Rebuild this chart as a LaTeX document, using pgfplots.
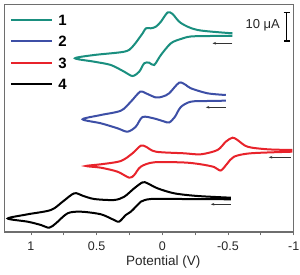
\documentclass[border=0pt]{standalone}
\usepackage{fontspec}
\setmainfont{Liberation Sans}
\usepackage{pgfplots}
\pgfplotsset{compat=1.18}
\usetikzlibrary{arrows.meta}
\definecolor{cteal}{HTML}{1A8F7F}
\definecolor{cblue}{HTML}{3D4FA6}
\definecolor{cred}{HTML}{E8232B}
\definecolor{axgray}{HTML}{6E6E6E}
\begin{document}
\begin{tikzpicture}
\begin{axis}[
  scale only axis, width=289pt, height=227.3pt,
  x dir=reverse, xmin=-1, xmax=1.2, ymin=43, ymax=270.3,
  axis line style={axgray, line width=1.1pt},
  xtick={-1,-0.5,0,0.5,1}, minor xtick={-0.75,-0.25,0.25,0.75},
  ytick=\empty,
  xtick pos=bottom, tick align=outside,
  major tick length=3.5pt, minor tick length=3.5pt,
  tick style={axgray, line width=0.8pt},
  /pgf/number format/assume math mode=true,
  ticklabel style={font=\fontsize{12.5}{14}\selectfont, text=black!85},
  xticklabel style={yshift=-3pt},
  xlabel={Potential (V)},
  xlabel style={at={(axis description cs:0.549,-0.146)}, anchor=base, font=\fontsize{13.5}{15}\selectfont, text=black!85},
  legend style={at={(axis description cs:0.0069,0.965)}, anchor=north west, draw=none, fill=none,
    font=\bfseries\fontsize{15}{15}\selectfont, row sep=11pt, nodes={inner sep=0pt, text depth=0pt}},
  legend image code/.code={\draw[#1] (0pt,0pt) -- (41.6pt,0pt); \path (46.5pt,0pt);},
  legend cell align=left,
]
\addlegendimage{cteal, line width=2pt}
\addlegendentry{1}
\addlegendimage{cblue, line width=2pt}
\addlegendentry{2}
\addlegendimage{cred, line width=2pt}
\addlegendentry{3}
\addlegendimage{black, line width=2pt}
\addlegendentry{4}
\addplot[cteal, line width=2pt, smooth, forget plot] coordinates {
(-0.534,239) (-0.369,239) (-0.217,238.5) (-0.141,236) (-0.065,231.7) (0.011,220) (0.062,210) (0.100,212.3) (0.138,211.7) (0.176,203.3) (0.227,199) (0.290,203.3) (0.392,210) (0.519,213.3) (0.665,216.7) (0.519,220) (0.290,223.3) (0.227,228.3) (0.150,241.7) (0.125,246.7) (0.087,246.7) (0.049,248.3) (0.011,253.3) (-0.040,262.5) (-0.078,261) (-0.141,252) (-0.268,245) (-0.534,241.7)
};
\addplot[cblue, line width=2pt, smooth, forget plot] coordinates {
(-0.483,174.3) (-0.344,174) (-0.217,173.3) (-0.141,168) (-0.095,158) (-0.052,152.5) (-0.014,153.5) (0.062,156.5) (0.150,158) (0.202,148.3) (0.265,143.3) (0.341,146.7) (0.468,151.7) (0.607,155.7) (0.468,160) (0.316,164.3) (0.240,173.3) (0.169,183.3) (0.125,181.7) (0.049,177.5) (-0.004,178.5) (-0.052,181.7) (-0.128,192.3) (-0.179,190) (-0.217,186.7) (-0.344,181.7) (-0.483,180)
};
\addplot[cred, line width=2pt, smooth, forget plot] coordinates {
(-0.990,123.3) (-0.673,121.7) (-0.546,118.3) (-0.496,111.7) (-0.445,104.5) (-0.394,108) (-0.293,110.7) (-0.166,112.5) (0.062,112.7) (0.164,108.3) (0.214,100) (0.252,97.3) (0.341,103.3) (0.468,107.3) (0.582,109) (0.468,110.7) (0.316,114) (0.227,121.7) (0.164,129.3) (0.125,128.3) (0.049,123.3) (-0.166,121.7) (-0.293,120.7) (-0.420,125) (-0.483,133.3) (-0.534,137.3) (-0.572,135) (-0.648,128.3) (-0.800,125.7) (-0.990,125)
};
\addplot[black, line width=2pt, smooth, forget plot] coordinates {
(-0.521,75.7) (-0.141,76) (0.087,76) (0.164,73.3) (0.189,70) (0.240,63.3) (0.278,60) (0.329,53.3) (0.367,55) (0.468,60.7) (0.620,63.3) (0.721,61.7) (0.810,51.7) (0.861,47.3) (0.924,50) (1.025,53.3) (1.177,56.5) (1.025,60.7) (0.848,65) (0.759,73.3) (0.671,81.7) (0.607,79.3) (0.519,76) (0.367,75) (0.290,78.3) (0.214,86.7) (0.150,92.7) (0.113,91.7) (0.037,86.7) (-0.090,81.7) (-0.268,79) (-0.521,77.3)
};
\draw[-{Stealth[length=3.5pt,width=2.6pt]}, line width=0.6pt, black!80] (axis cs:-0.534,231.7) -- (axis cs:-0.382,231.7);
\draw[-{Stealth[length=3.5pt,width=2.6pt]}, line width=0.6pt, black!80] (axis cs:-0.483,167.7) -- (axis cs:-0.331,167.7);
\draw[-{Stealth[length=3.5pt,width=2.6pt]}, line width=0.6pt, black!80] (axis cs:-0.977,117.7) -- (axis cs:-0.810,117.7);
\draw[-{Stealth[length=3.5pt,width=2.6pt]}, line width=0.6pt, black!80] (axis cs:-0.521,70.7) -- (axis cs:-0.369,70.7);
\draw[line width=1.5pt, {Bar[width=6pt]}-{Bar[width=6pt]}] (axis cs:-0.947,263) -- (axis cs:-0.947,233);
\node[anchor=east, font=\fontsize{13}{15}\selectfont, text=black!85] at (axis cs:-0.922,250) {10 μA};
\end{axis}
\pgfresetboundingbox
\path ([shift={(-4.7pt,-43pt)}]current axis.south west) rectangle ([shift={(6.3pt,4.7pt)}]current axis.north east);
\end{tikzpicture}
\end{document}
